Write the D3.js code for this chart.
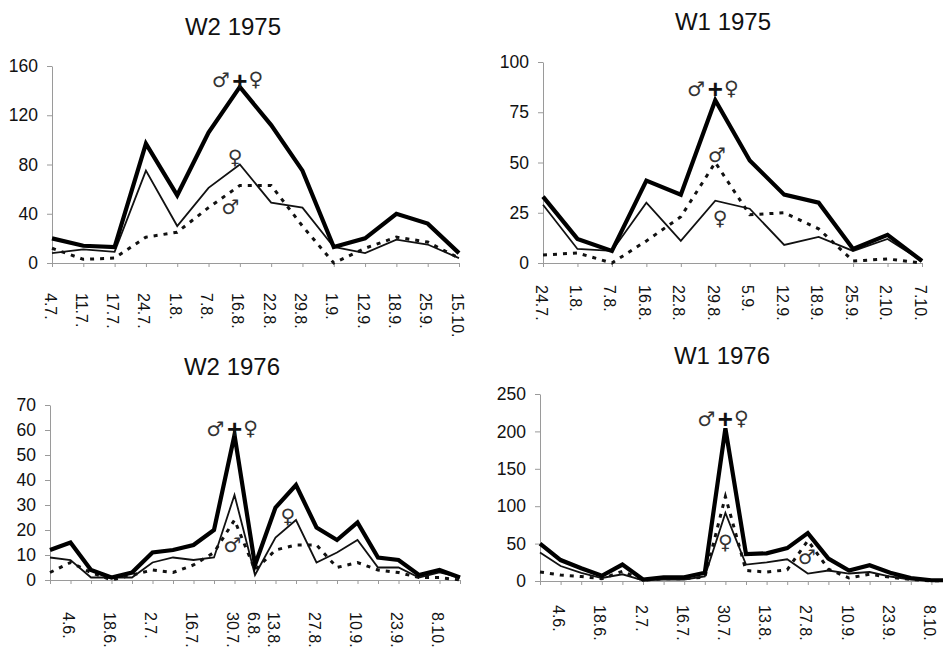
<!DOCTYPE html>
<html>
<head>
<meta charset="utf-8">
<script src="https://cdn.jsdelivr.net/npm/d3@7"></script>
<style>
body{margin:0;background:#fff;}
svg text{font-family:"Liberation Sans",Arial,sans-serif;fill:#111;}
</style>
</head>
<body>
<div id="chart"></div>
<script>
/* Data */
// W2 1975
var w2_1975_dates = ["4.7.","11.7.","17.7.","24.7.","1.8.","7.8.","16.8.","22.8.","29.8.","1.9.","12.9.","18.9.","25.9.","15.10."];
var w2_1975_total  = [20,14,13,97,55,106,143,112,75,13,20,40,32,8];
var w2_1975_female = [8,11,9,75,30,61,80,49,45,13,8,19,15,4];
var w2_1975_male   = [12,3,4,21,25,45,63,63,30,0,12,21,17,4];

// W1 1975
var w1_1975_dates = ["24.7.","1.8.","7.8.","16.8.","22.8.","29.8.","5.9.","12.9.","18.9.","25.9.","2.10.","7.10."];
var w1_1975_total  = [33,12,6,41,34,81,51,34,30,7,14,1];
var w1_1975_female = [29,7,6,30,11,31,27,9,13,6,12,1];
var w1_1975_male   = [4,5,0,11,23,50,24,25,17,1,2,0];

// W2 1976 (weekly samples, only some dates labelled)
var w2_1976_dates = ["","4.6.","","18.6.","","2.7.","","16.7.","","30.7.","6.8.","13.8.","","27.8.","","10.9.","","23.9.","","8.10.",""];
var w2_1976_total  = [12,15,4,1,3,11,12,14,20,58,6,29,38,21,16,23,9,8,2,4,1];
var w2_1976_female = [9,8,1,1,1,7,9,8,9,34,2,17,24,7,11,16,5,5,1,3,1];
var w2_1976_male   = [3,7,3,0,2,4,3,6,11,24,4,12,14,14,5,7,4,3,1,1,0];

// W1 1976
var w1_1976_dates = ["","4.6.","","18.6.","","2.7.","","16.7.","","30.7.","","13.8.","","27.8.","","10.9.","","23.9.","","8.10.",""];
var w1_1976_total  = [50,28,17,7,22,2,5,5,11,204,36,37,44,64,30,14,21,11,4,1,1];
var w1_1976_female = [38,20,11,4,9,1,2,2,6,91,22,25,29,10,14,10,12,6,2,1,0];
var w1_1976_male   = [12,8,6,3,13,1,3,3,5,113,14,12,15,54,16,4,9,5,2,0,1];

// sex symbol notes: [category index, value]
var w2_1975_notes = {both:[6,148.5], female:[5.85,86], male:[5.7,45.5]};
var w1_1975_notes = {both:[5,86.5], female:[5.14,22.4], male:[5.05,53.7]};
var w2_1976_notes = {both:[9,60.4], female:[11.6,25.6], male:[8.9,14]};
var w1_1976_notes = {both:[9,216.5], female:[9,52], male:[12.96,33]};

/* Panel layout */
var panels = [
    {title:"W2 1975", dates:w2_1975_dates, total:w2_1975_total, female:w2_1975_female, male:w2_1975_male,
     notes:w2_1975_notes, yMax:160, yTicks:[0,40,80,120,160],
     left:52, right:459, bottom:263, top:66, titleX:233, titleY:35, labelGap:30},
    {title:"W1 1975", dates:w1_1975_dates, total:w1_1975_total, female:w1_1975_female, male:w1_1975_male,
     notes:w1_1975_notes, yMax:100, yTicks:[0,25,50,75,100],
     left:543, right:922, bottom:263, top:62, titleX:723, titleY:30, labelGap:22},
    {title:"W2 1976", dates:w2_1976_dates, total:w2_1976_total, female:w2_1976_female, male:w2_1976_male,
     notes:w2_1976_notes, yMax:70, yTicks:[0,10,20,30,40,50,60,70],
     left:50, right:460, bottom:580, top:405, titleX:232, titleY:375, labelGap:32},
    {title:"W1 1976", dates:w1_1976_dates, total:w1_1976_total, female:w1_1976_female, male:w1_1976_male,
     notes:w1_1976_notes, yMax:250, yTicks:[0,50,100,150,200,250],
     left:540, right:952, bottom:581, top:394, titleX:722, titleY:364, labelGap:24}
];

var svg = d3.select('#chart')
    .append('svg')
    .attr('width',943)
    .attr('height',648);

svg.append('rect').attr('width',943).attr('height',648).attr('fill','#fff');

panels.forEach(drawPanel);

/*
 * draw one panel: title, axes, three lines, symbols
 */
function drawPanel(p){
    var n = p.dates.length;
    var x = d3.scaleLinear().domain([0,n-1]).range([p.left,p.right]);
    var y = d3.scaleLinear().domain([0,p.yMax]).range([p.bottom,p.top]);
    var g = svg.append('g');

    g.append('text')
	.attr('x',p.titleX)
	.attr('y',p.titleY)
	.attr('text-anchor','middle')
	.style('font-size','24px')
	.text(p.title);

    // y axis
    var ya = g.append('g')
	.attr('transform','translate('+p.left+',0)')
	.call(d3.axisLeft(y).tickValues(p.yTicks).tickSize(5).tickSizeOuter(0).tickPadding(9));
    ya.attr('font-family',null).attr('font-size',null);
    ya.select('.domain').attr('stroke','#9a9a9a');
    ya.selectAll('.tick line').attr('stroke','#9a9a9a');
    ya.selectAll('.tick text').style('font-size','17.5px');

    // x axis
    var xa = g.append('g')
	.attr('transform','translate(0,'+p.bottom+')')
	.call(d3.axisBottom(x).tickValues(d3.range(n)).tickSize(4).tickSizeOuter(0)
	      .tickFormat(function(d){ return p.dates[d]; }));
    xa.attr('font-family',null).attr('font-size',null);
    xa.select('.domain').attr('stroke','#9a9a9a');
    xa.selectAll('.tick line').attr('stroke','#9a9a9a');
    xa.selectAll('.tick text')
	.attr('transform','rotate(90)')
	.attr('x',p.labelGap)
	.attr('y',0)
	.attr('dy','0.5em')
	.style('text-anchor','start')
	.style('font-size','16px');

    var line = d3.line()
	.x(function(d,i){ return x(i); })
	.y(function(d){ return y(d); });

    g.append('path')
	.attr('d',line(p.male))
	.attr('fill','none')
	.attr('stroke','#111')
	.attr('stroke-width',3)
	.attr('stroke-dasharray','4,6');
    g.append('path')
	.attr('d',line(p.female))
	.attr('fill','none')
	.attr('stroke','#111')
	.attr('stroke-width',1.8)
	.attr('stroke-linejoin','miter');
    g.append('path')
	.attr('d',line(p.total))
	.attr('fill','none')
	.attr('stroke','#000')
	.attr('stroke-width',4.2)
	.attr('stroke-linejoin','miter')
	.attr('stroke-miterlimit',6);

    // symbols
    var bx = x(p.notes.both[0]), by = y(p.notes.both[1]);
    g.append('text').attr('x',bx).attr('y',by).attr('dy','0.36em')
	.attr('text-anchor','middle').style('font-size','26px').style('font-weight','bold').text('+');
    addSign(g, bx-19, by, '\u2642\uFE0E');
    addSign(g, bx+16, by-1, '\u2640\uFE0E');
    addSign(g, x(p.notes.female[0]), y(p.notes.female[1]), '\u2640\uFE0E');
    addSign(g, x(p.notes.male[0]), y(p.notes.male[1]), '\u2642\uFE0E');
}

function addSign(g, cx, cy, s){
    g.append('text')
	.attr('x',cx)
	.attr('y',cy)
	.attr('dy','0.36em')
	.attr('text-anchor','middle')
	.style('font-family','"DejaVu Sans"')
	.style('font-size','20px')
	.style('fill','#333')
	.text(s);
}
</script>
</body>
</html>
